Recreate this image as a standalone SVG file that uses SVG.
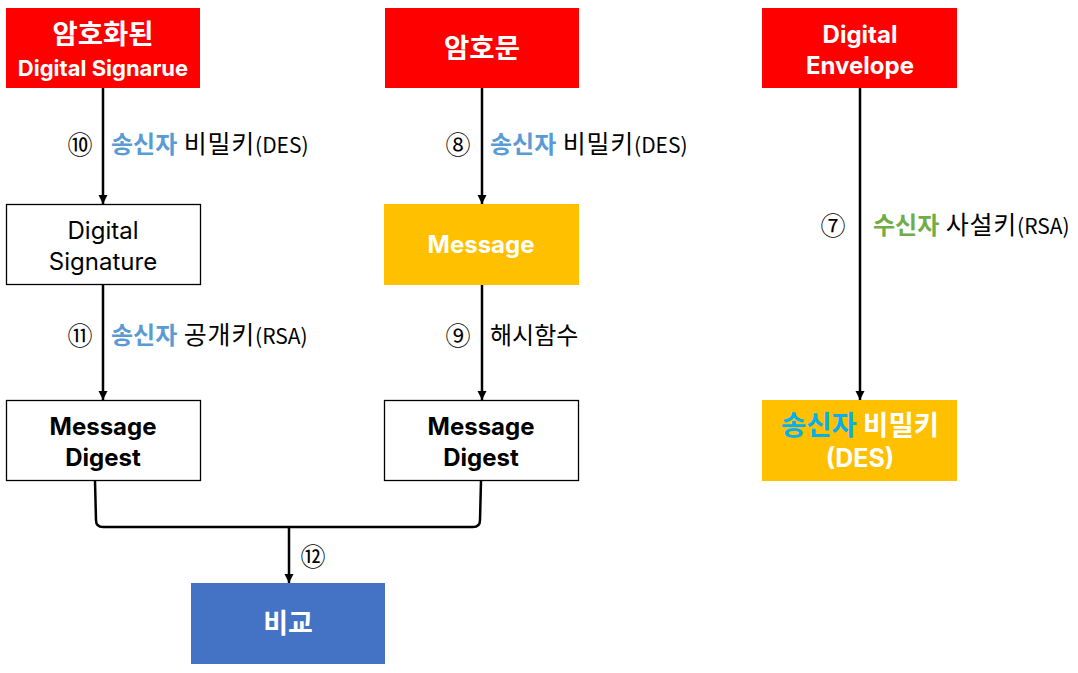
<svg xmlns="http://www.w3.org/2000/svg" width="1078" height="673" viewBox="0 0 1078 673">
<style>
text{font-family:"Noto Sans CJK KR","Malgun Gothic","Noto Sans",sans-serif}
.lat{font-family:Inter,"Noto Sans",sans-serif}
.bw{font-size:24px;font-weight:bold;fill:#fff;text-anchor:middle}
.bk{font-size:24px;font-weight:bold;fill:#000;text-anchor:middle}
.nk{font-size:24px;fill:#000;text-anchor:middle}
.kb{font-size:27.5px}
.lb{font-size:21px;fill:#000}
.k{font-size:24px}
.kr{font-size:25px;letter-spacing:0.8px}
.num{font-size:25px;fill:#000;text-anchor:middle}
.blue{fill:#5B9BD5;font-weight:bold}
.green{fill:#70AD47;font-weight:bold}
.red{fill:#FF0000}
.org{fill:#FFC000}
.wh{fill:#fff;stroke:#000;stroke-width:1.3}
.cn{stroke:#000;stroke-width:2.5;fill:none}
</style>
<defs>
<marker id="ah" markerWidth="10" markerHeight="10" refX="9" refY="5" orient="auto" markerUnits="userSpaceOnUse">
<path d="M0,0.5 L9,5 L0,9.5 z" fill="#000"/>
</marker>
</defs>
<g id="n1"><rect class="red" x="6" y="8" width="194" height="80"/><text class="bw kb" x="103" y="44">암호화된</text><text class="bw lat" x="103" y="75.5" style="font-size:22px">Digital Signarue</text></g>
<g id="n2"><rect class="red" x="385" y="8" width="194" height="80"/><text class="bw kb" x="482" y="58">암호문</text></g>
<g id="n3"><rect class="red" x="762" y="8" width="195" height="80"/><text class="bw lat" x="860" y="43">Digital</text><text class="bw lat" x="860" y="74">Envelope</text></g>
<g id="n4"><rect class="wh" x="6.5" y="204.5" width="194" height="80"/><text class="nk lat" x="103" y="239">Digital</text><text class="nk lat" x="103" y="270">Signature</text></g>
<g id="n5"><rect class="org" x="384" y="204" width="195" height="81"/><text class="bw lat" x="481" y="253">Message</text></g>
<g id="n6"><rect class="wh" x="6.5" y="400.5" width="194" height="80"/><text class="bk lat" x="103" y="435">Message</text><text class="bk lat" x="103" y="466">Digest</text></g>
<g id="n7"><rect class="wh" x="384.5" y="400.5" width="194" height="80"/><text class="bk lat" x="481" y="435">Message</text><text class="bk lat" x="481" y="466">Digest</text></g>
<g id="n8"><rect class="org" x="762" y="400" width="195" height="81"/><text class="bw kb" x="860" y="435"><tspan fill="#00B0F0">송신자</tspan> 비밀키</text><text class="bw lat" x="860" y="467" style="font-size:25px">(DES)</text></g>
<g id="n9"><rect fill="#4472C4" x="191" y="583" width="194" height="81"/><text class="bw" x="288" y="633" style="font-size:27px">비교</text></g>
<g id="connectors">
<line class="cn" x1="103" y1="88" x2="103" y2="204" marker-end="url(#ah)"/>
<line class="cn" x1="482" y1="88" x2="482" y2="204" marker-end="url(#ah)"/>
<line class="cn" x1="860" y1="88" x2="860" y2="400" marker-end="url(#ah)"/>
<line class="cn" x1="103" y1="284" x2="103" y2="400" marker-end="url(#ah)"/>
<line class="cn" x1="482" y1="285" x2="482" y2="400" marker-end="url(#ah)"/>
<path class="cn" d="M95,481 L96,520 Q96,527 103,527 L473,527 Q480,527 480,520 L481,481"/>
<line class="cn" x1="289" y1="527" x2="289" y2="583" marker-end="url(#ah)"/>
</g>
<g id="labels">
<text class="num" x="80" y="154">⑩</text>
<text class="lb" x="111" y="153"><tspan class="k blue">송신자</tspan><tspan class="kr"> 비밀키</tspan>(DES)</text>
<text class="num" x="80" y="345">⑪</text>
<text class="lb" x="111" y="344"><tspan class="k blue">송신자</tspan><tspan class="kr"> 공개키</tspan>(RSA)</text>
<text class="num" x="458" y="154">⑧</text>
<text class="lb" x="490" y="153"><tspan class="k blue">송신자</tspan><tspan class="kr"> 비밀키</tspan>(DES)</text>
<text class="num" x="458" y="345">⑨</text>
<text class="lb k" x="490" y="344">해시함수</text>
<text class="num" x="833" y="235">⑦</text>
<text class="lb" x="873" y="234"><tspan class="k green">수신자</tspan><tspan class="kr"> 사설키</tspan>(RSA)</text>
<text class="num" x="313" y="566">⑫</text>
</g>
</svg>
